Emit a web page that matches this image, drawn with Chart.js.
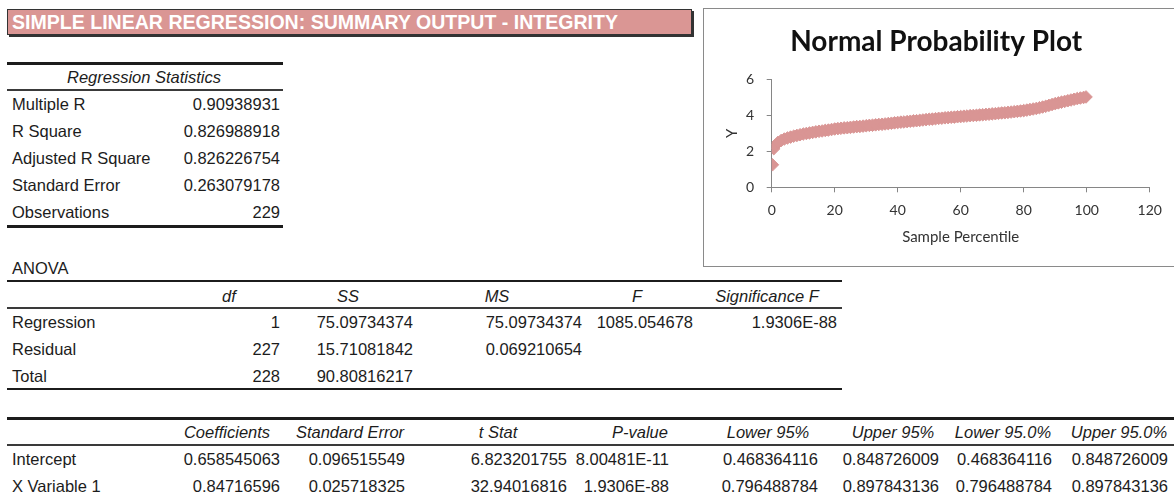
<!DOCTYPE html>
<html><head><meta charset="utf-8">
<script src="https://cdn.jsdelivr.net/npm/chart.js@4.4.1/dist/chart.umd.min.js"></script>
<style>
html,body{margin:0;padding:0;background:#fff;overflow:hidden;width:1174px;height:495px;}
body{position:relative;font-family:"Liberation Sans",Arial,sans-serif;color:#1c1c1c;}
.t{position:absolute;height:20px;line-height:20px;font-size:16.5px;white-space:nowrap;}
.r{text-align:right;width:220px;}
.c{text-align:center;width:240px;}
.i{font-style:italic;}
.ln{position:absolute;background:#1c1c1c;}
#hdr{position:absolute;left:7px;top:9px;width:683px;height:24px;background:#DA9694;border:1px solid #333;box-shadow:2px 2px 0 #333;overflow:hidden;}
#hdrtxt{position:absolute;left:4px;top:0;height:24px;line-height:25px;font-size:20px;font-weight:bold;color:#fff;white-space:nowrap;transform-origin:0 50%;font-family:"Liberation Sans Narrow","Liberation Sans",Arial,sans-serif;}
#box{position:absolute;left:703px;top:8px;width:480px;height:257px;border:1px solid #8a8a8a;background:#fff;}
#box canvas{display:block;}
</style>
</head><body>
<div id="hdr"><span id="hdrtxt">SIMPLE LINEAR REGRESSION: SUMMARY OUTPUT - INTEGRITY</span></div>
<div id="box"><canvas id="cv" width="480" height="257"></canvas></div>
<script>
// ---- chart data: normal probability plot ----
const percentiles = [0.22, 0.66, 1, 2, 3, 4, 5, 6, 7, 8, 9, 10,
  11, 12, 13, 14, 15, 16, 17, 18, 19, 20,
  21, 22, 23, 24, 25, 26, 27, 28, 29, 30,
  31, 32, 33, 34, 35, 36, 37, 38, 39, 40,
  41, 42, 43, 44, 45, 46, 47, 48, 49, 50,
  51, 52, 53, 54, 55, 56, 57, 58, 59, 60,
  61, 62, 63, 64, 65, 66, 67, 68, 69, 70,
  71, 72, 73, 74, 75, 76, 77, 78, 79, 80,
  81, 82, 83, 84, 85, 86, 87, 88, 89, 90,
  91, 92, 93, 94, 95, 96, 97, 98, 99, 99.78];
const yValues = [1.25, 2.15, 2.30, 2.49, 2.60, 2.68, 2.74, 2.79, 2.84, 2.88, 2.92, 2.96,
  2.99, 3.02, 3.05, 3.08, 3.11, 3.13, 3.16, 3.18, 3.21, 3.24,
  3.26, 3.28, 3.30, 3.31, 3.33, 3.35, 3.37, 3.38, 3.40, 3.42,
  3.44, 3.45, 3.47, 3.49, 3.50, 3.52, 3.54, 3.56, 3.58, 3.60,
  3.62, 3.63, 3.65, 3.67, 3.69, 3.70, 3.72, 3.74, 3.76, 3.78,
  3.79, 3.81, 3.83, 3.84, 3.86, 3.87, 3.89, 3.90, 3.92, 3.93,
  3.95, 3.96, 3.98, 3.99, 4.00, 4.02, 4.03, 4.05, 4.06, 4.08,
  4.09, 4.11, 4.13, 4.14, 4.16, 4.18, 4.20, 4.22, 4.24, 4.26,
  4.29, 4.32, 4.35, 4.38, 4.42, 4.46, 4.50, 4.55, 4.60, 4.65,
  4.69, 4.73, 4.77, 4.81, 4.85, 4.89, 4.93, 4.96, 4.99, 5.02];
const xTickStep = 20, xMax = 120;
const yTickStep = 2, yMax = 6;

// ---- table data ----
const statLabels = ['Multiple R', 'R Square', 'Adjusted R Square', 'Standard Error', 'Observations'];
const statValues = ['0.90938931', '0.826988918', '0.826226754', '0.263079178', '229'];
const anovaHeaders = ['df', 'SS', 'MS', 'F', 'Significance F'];
const anovaRowLabels = ['Regression', 'Residual', 'Total'];
const anovaDf = ['1', '227', '228'];
const anovaSS = ['75.09734374', '15.71081842', '90.80816217'];
const anovaMS = ['75.09734374', '0.069210654', ''];
const anovaF = ['1085.054678', '', ''];
const anovaSigF = ['1.9306E-88', '', ''];
const coefHeaders = ['Coefficients', 'Standard Error', 't Stat', 'P-value', 'Lower 95%', 'Upper 95%', 'Lower 95.0%', 'Upper 95.0%'];
const coefRowLabels = ['Intercept', 'X Variable 1'];
const coefIntercept = ['0.658545063', '0.096515549', '6.823201755', '8.00481E-11', '0.468364116', '0.848726009', '0.468364116', '0.848726009'];
const coefX1 = ['0.84716596', '0.025718325', '32.94016816', '1.9306E-88', '0.796488784', '0.897843136', '0.796488784', '0.897843136'];

// ---- layout (positions only) ----
const anovaRight = [280, 413, 582, 693, 837];
const anovaCenter = [229, 348, 497, 637, 767];
const coefRight = [280, 405, 567, 669, 818, 939, 1052, 1168];
const coefCenter = [227, 350, 498, 640, 768, 893, 1003, 1119];
const LX = 12;

function txt(s, x, y, cls) {
  const d = document.createElement('div');
  d.className = 't ' + (cls || '');
  d.textContent = s;
  let left = x;
  if ((cls || '').includes('r')) left = x - 220;
  else if ((cls || '').includes('c')) left = x - 120;
  d.style.left = left + 'px';
  d.style.top = (y - 10) + 'px';
  document.body.appendChild(d);
}
function line(x1, x2, y, h, col) {
  const d = document.createElement('div');
  d.className = 'ln';
  d.style.left = x1 + 'px'; d.style.width = (x2 - x1) + 'px';
  d.style.top = y + 'px'; d.style.height = h + 'px';
  if (col) d.style.background = col;
  document.body.appendChild(d);
}

// header text fit
const ht = document.getElementById('hdrtxt');
const w = ht.getBoundingClientRect().width;
ht.style.transform = 'scaleX(' + (606 / w) + ')';

// Regression statistics
line(7, 283, 62, 3);
txt('Regression Statistics', 144, 77, 'c i');
line(7, 283, 89, 2, '#3a3a3a');
statLabels.forEach((s, k) => {
  txt(s, LX, 104 + 27 * k);
  txt(statValues[k], anovaRight[0], 104 + 27 * k, 'r');
});
line(7, 283, 225, 3);

// ANOVA
txt('ANOVA', LX, 268);
line(7, 842, 280, 2);
anovaHeaders.forEach((s, k) => txt(s, anovaCenter[k], 296, 'c i'));
line(7, 842, 307, 2, '#3a3a3a');
anovaRowLabels.forEach((s, k) => {
  const y = 322 + 27 * k;
  txt(s, LX, y);
  [anovaDf[k], anovaSS[k], anovaMS[k], anovaF[k], anovaSigF[k]].forEach((v, j) => {
    if (v) txt(v, anovaRight[j], y, 'r');
  });
});
line(7, 842, 388, 2);

// Coefficients
line(7, 1174, 417, 3);
coefHeaders.forEach((s, k) => txt(s, coefCenter[k], 432, 'c i'));
line(7, 1174, 444, 2, '#3a3a3a');
[coefIntercept, coefX1].forEach((row, k) => {
  const y = 459 + 27 * k;
  txt(coefRowLabels[k], LX, y);
  row.forEach((v, j) => txt(v, coefRight[j], y, 'r'));
});

// ---- chart ----
const points = percentiles.map((p, i) => ({x: p, y: yValues[i]}));
const axisCol = '#868686';
const tickFont = {family: 'Lato', size: 14};
new Chart(document.getElementById('cv'), {
  type: 'scatter',
  data: {datasets: [{
    label: 'Y',
    data: points,
    pointStyle: 'rectRot',
    pointRadius: 6.3,
    backgroundColor: 'rgb(217,149,148)',
    borderColor: 'rgb(217,149,148)',
    borderWidth: 1
  }]},
  options: {
    responsive: false,
    animation: false,
    events: [],
    layout: {padding: {left: 18.7, right: 34.3, top: 0, bottom: 18}},
    plugins: {
      legend: {display: false},
      tooltip: {enabled: false},
      title: {
        display: true,
        text: 'Normal Probability Plot',
        color: '#111',
        font: {family: 'Lato', size: 28, weight: 'bold', lineHeight: 1.2},
        padding: {top: 16.2, bottom: 20.5}
      }
    },
    scales: {
      x: {
        type: 'linear', min: 0, max: xMax,
        ticks: {stepSize: xTickStep, font: tickFont, color: '#333', padding: 10, maxRotation: 0},
        grid: {drawOnChartArea: false, drawTicks: true, tickLength: 5, color: axisCol},
        border: {color: axisCol, width: 1},
        title: {display: true, text: 'Sample Percentile', color: '#333', font: {family: 'Lato', size: 15}, padding: {top: 0, bottom: 2}},
        afterFit: s => { s.height = 60.7; }
      },
      y: {
        type: 'linear', min: 0, max: yMax,
        ticks: {stepSize: yTickStep, font: tickFont, color: '#333', padding: 12.5},
        grid: {drawOnChartArea: false, drawTicks: true, tickLength: 5, color: axisCol},
        border: {color: axisCol, width: 1},
        title: {display: true, text: 'Y', color: '#333', font: {family: 'Lato', size: 15}, padding: 0},
        afterFit: s => { s.width = 49; }
      }
    }
  }
});
</script>
</body></html>
